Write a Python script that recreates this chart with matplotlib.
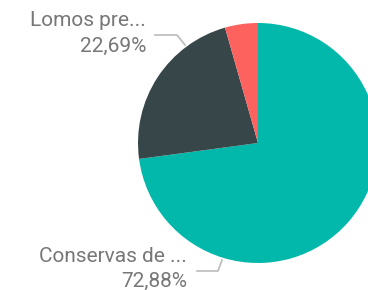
import matplotlib
matplotlib.use("Agg")
import matplotlib.pyplot as plt

# datos del gráfico
categorias = ["Conservas de ...", "Lomos pre...", "Otros"]
valores = [72.88, 22.69, 4.43]
etiquetas = ["72,88%", "22,69%", ""]
colores = ["#01B8AA", "#374649", "#FD625E"]

W, H = 368, 290
fig = plt.figure(figsize=(W / 100, H / 100), dpi=100)
ax = fig.add_axes([0, 0, 1, 1])

ax.pie(valores, colors=colores, startangle=90, counterclock=False,
       center=(258, H - 143), radius=120,
       wedgeprops=dict(linewidth=0))
ax.set_xlim(0, W)
ax.set_ylim(0, H)
ax.set_aspect("equal")
ax.axis("off")

gris = "#777777"
linea = "#BBBBBB"
fuente = dict(family="Roboto", fontsize=15, color=gris, ha="right")

# Lomos pre...
ax.plot([155, 177, 185], [H - 35, H - 35, H - 45], color=linea, lw=1.2)
ax.text(146, H - 21, categorias[1], va="center", **fuente)
ax.text(146, H - 46, etiquetas[1], va="center", **fuente)

# Conservas de ...
ax.plot([197, 218, 222], [H - 271, H - 271, H - 260], color=linea, lw=1.2)
ax.text(187, H - 257, categorias[0], va="center", **fuente)
ax.text(187, H - 281, etiquetas[0], va="center", **fuente)

fig.savefig("out.png", dpi=100)
